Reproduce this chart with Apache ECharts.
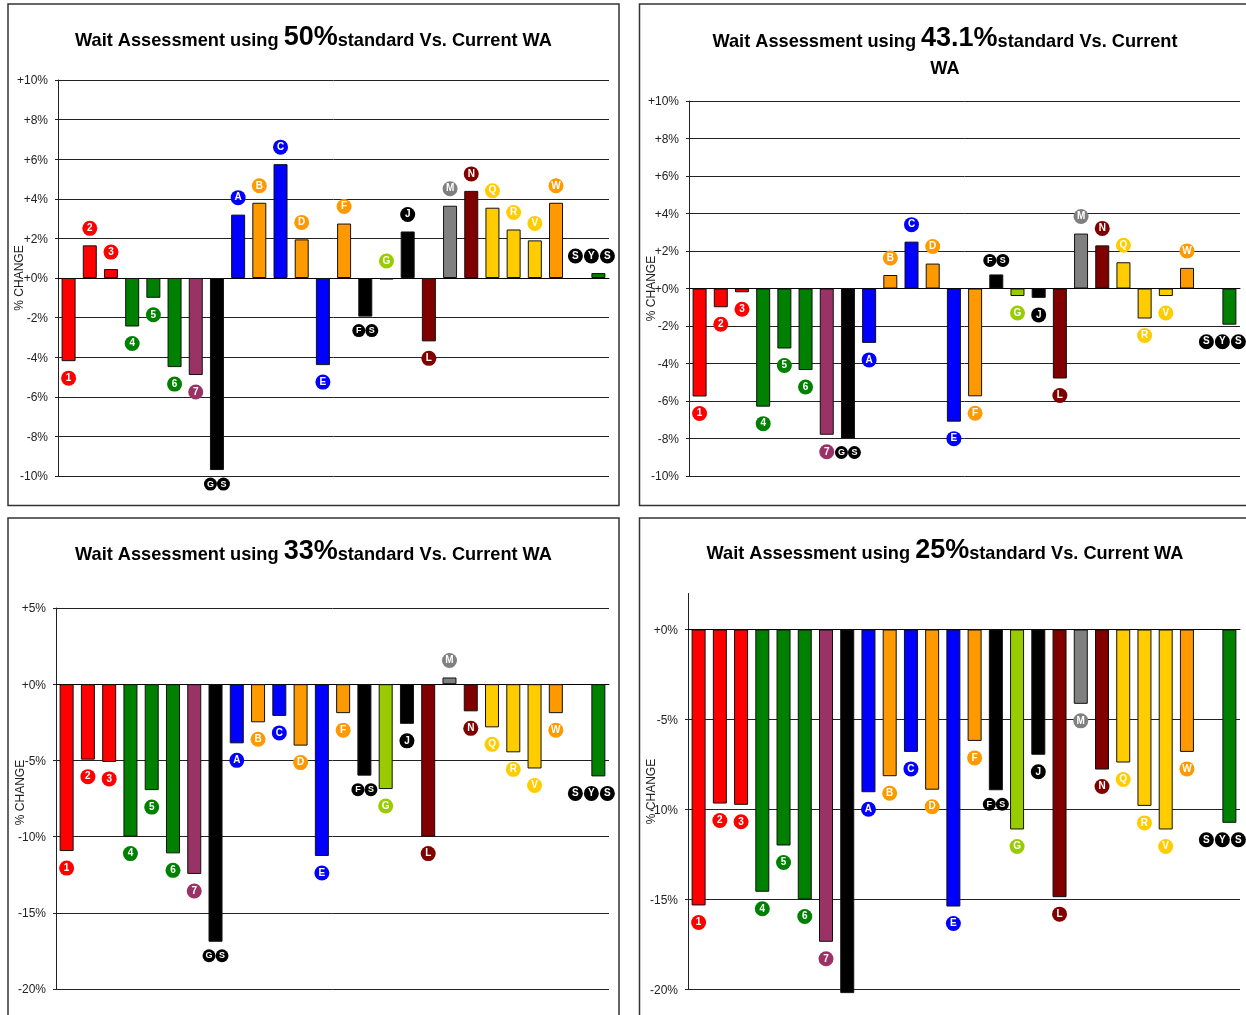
<!DOCTYPE html>
<html>
<head>
<meta charset="utf-8">
<style>html,body{margin:0;padding:0;background:#fff;overflow:hidden}#c{width:1246px;height:1015px}</style>
<script src="https://cdn.jsdelivr.net/npm/echarts@6/dist/echarts.min.js"></script>
</head>
<body>
<div id="c"></div>
<script>
const categories = ['1','2','3','4','5','6','7','GS','A','B','C','D','E','F','FS','G','J','L','M','N','Q','R','V','W','','SYS'];
const RED='#FF0000',GRN='#008000',PUR='#993366',BLK='#000000',BLU='#0000FF',ORG='#FF9900',LIM='#99CC00',MAR='#800000',GRY='#808080',AMB='#FFCC00';
const barColors   = [RED,RED,RED,GRN,GRN,GRN,PUR,BLK,BLU,ORG,BLU,ORG,BLU,ORG,BLK,LIM,BLK,MAR,GRY,MAR,AMB,AMB,AMB,ORG,BLK,GRN];
const labelColors = [RED,RED,RED,GRN,GRN,GRN,PUR,BLK,BLU,ORG,BLU,ORG,BLU,ORG,BLK,LIM,BLK,MAR,GRY,MAR,AMB,AMB,AMB,ORG,BLK,BLK];

const values50  = [-4.2,1.65,0.45,-2.45,-1.0,-4.5,-4.9,-9.7,3.2,3.8,5.75,1.95,-4.4,2.75,-1.95,-0.08,2.35,-3.2,3.65,4.4,3.55,2.45,1.9,3.8,null,0.25];
const values431 = [-5.76,-1.0,-0.2,-6.3,-3.2,-4.35,-7.8,-8.0,-2.9,0.72,2.5,1.33,-7.1,-5.75,0.75,-0.4,-0.5,-4.8,2.93,2.3,1.4,-1.6,-0.4,1.1,null,-1.93];
const values33  = [-10.95,-4.95,-5.1,-10.0,-6.95,-11.1,-12.45,-16.9,-3.88,-2.5,-2.08,-4.03,-11.27,-1.9,-6.0,-6.88,-2.6,-10.0,0.44,-1.78,-2.83,-4.47,-5.53,-1.9,null,-6.05];
const values25  = [-15.33,-9.67,-9.74,-14.57,-12.0,-15.0,-17.35,-20.2,-9.04,-8.15,-6.8,-8.9,-15.39,-6.19,-8.93,-11.11,-6.96,-14.87,-4.13,-7.78,-7.39,-9.8,-11.11,-6.8,null,-10.74];

const titleTexts = [
  '{a|Wait Assessment using }{b|50%}{a|standard Vs. Current WA}',
  '{a|Wait Assessment using }{b|43.1%}{a|standard Vs. Current}\n{a|WA}',
  '{a|Wait Assessment using }{b|33%}{a|standard Vs. Current WA}',
  '{a|Wait Assessment using }{b|25%}{a|standard Vs. Current WA}'
];
const axisName = '% CHANGE';
const FONT = '"Liberation Sans", Arial, sans-serif';

const panels = [
  {v:values50, min:-10,max:10,step:2, box:[58,80,551,396],  frame:[8,4,611,501.5],   tx:313.5,ty:24.5, above:['G'], hide:[], namePad:[0,0,0,0], nameGap:32},
  {v:values431,min:-10,max:10,step:2, box:[689,101,551,375],frame:[639.5,4,640,501.5],tx:945,ty:25.5,  above:[],    hide:[], namePad:[0,0,0,0], nameGap:31},
  {v:values33, min:-20,max:5, step:5, box:[56,608,553,381], frame:[8,518,611,540], tx:313.5,ty:538.5,above:[],    hide:[], namePad:[0,0,0,12],nameGap:29},
  {v:values25, min:-20,max:2, step:5, box:[688,593.5,552,396],frame:[639.5,518,640,540],tx:945,ty:537.5,above:[],   hide:['GS'],namePad:[0,0,0,0],nameGap:30,cap:0}
];

function itemLabel(cat,i,val,p){
  if(p.hide.includes(cat)||cat==='') return {show:false};
  const multi=cat.length>1;
  const big=cat==='SYS';
  const d=multi&&!big?13:15;
  const letters=cat.split('');
  const txt=letters.map(l=>`{c|${l}}`).join(big?'{s| }':'');
  const up=val>=0||p.above.includes(cat);
  return {
    show:true,position:up?'top':'bottom',distance:multi&&!big?7.5:9.5,
    offset:big?[-7,0]:[0,0],formatter:txt,
    rich:{
      c:{width:d,height:d,lineHeight:d,align:'center',verticalAlign:'middle',backgroundColor:labelColors[i],borderRadius:d/2,
         color:'#fff',fontFamily:FONT,fontWeight:'bold',fontSize:multi&&!big?9:10},
      s:{width:1,height:d,fontSize:1}
    }
  };
}

const option={
  animation:false,backgroundColor:'#fff',
  title:panels.map((p,k)=>({
    text:titleTexts[k],left:p.tx,top:p.ty,textAlign:'center',padding:0,
    textStyle:{rich:{
      a:{fontFamily:FONT,fontWeight:'bold',fontSize:18.2,color:'#000',lineHeight:27,verticalAlign:'bottom',padding:[0,0,2,0]},
      b:{fontFamily:FONT,fontWeight:'bold',fontSize:27,color:'#000',lineHeight:27,verticalAlign:'bottom'}
    }}
  })),
  grid:panels.map(p=>({left:p.box[0],top:p.box[1],width:p.box[2],height:p.box[3],containLabel:false})),
  xAxis:panels.map((p,k)=>({
    type:'category',gridIndex:k,data:categories,
    axisLine:{show:true,onZero:true,lineStyle:{color:'#000',width:1}},
    axisTick:{show:false},axisLabel:{show:false},splitLine:{show:false}
  })),
  yAxis:panels.map((p,k)=>{
    const ticks=[];for(let t=p.min;t<=p.max;t+=p.step)ticks.push(t);
    return {
    type:'value',gridIndex:k,min:p.min,max:p.max,interval:p.step,
    name:axisName,nameLocation:'middle',nameRotate:90,nameGap:p.nameGap,nameMoveOverlap:false,
    nameTextStyle:{fontFamily:FONT,fontSize:12,color:'#222',padding:p.namePad},
    axisLine:{show:true,lineStyle:{color:'#222',width:1}},
    axisTick:{show:true,length:3,inside:false,customValues:ticks,lineStyle:{color:'#222'}},
    axisLabel:{margin:10,customValues:ticks,
      rich:{t:{fontFamily:FONT,fontSize:12,color:'#222',lineHeight:14,verticalAlign:'bottom',padding:[2,0,0,0]}},
      formatter:v=>'{t|'+(v>=0?'+':'')+v+'%}'},
    splitLine:{show:true,showMaxLine:p.cap!==0,lineStyle:{color:'#222',width:1}}
  };}),
  series:panels.map((p,k)=>({
    type:'bar',xAxisIndex:k,yAxisIndex:k,barWidth:14,clip:false,
    data:p.v.map((val,i)=>({
      value:val,
      itemStyle:{color:barColors[i],borderColor:'#111',borderWidth:1},
      label:itemLabel(categories[i],i,val,p)
    }))
  })),
  graphic:panels.map(p=>({
    type:'rect',silent:true,z:-1,
    shape:{x:p.frame[0],y:p.frame[1],width:p.frame[2],height:p.frame[3]},
    style:{fill:'none',stroke:'#333',lineWidth:1.5}
  }))
};
echarts.init(document.getElementById('c'),null,{renderer:'canvas'}).setOption(option);
</script>
</body>
</html>
